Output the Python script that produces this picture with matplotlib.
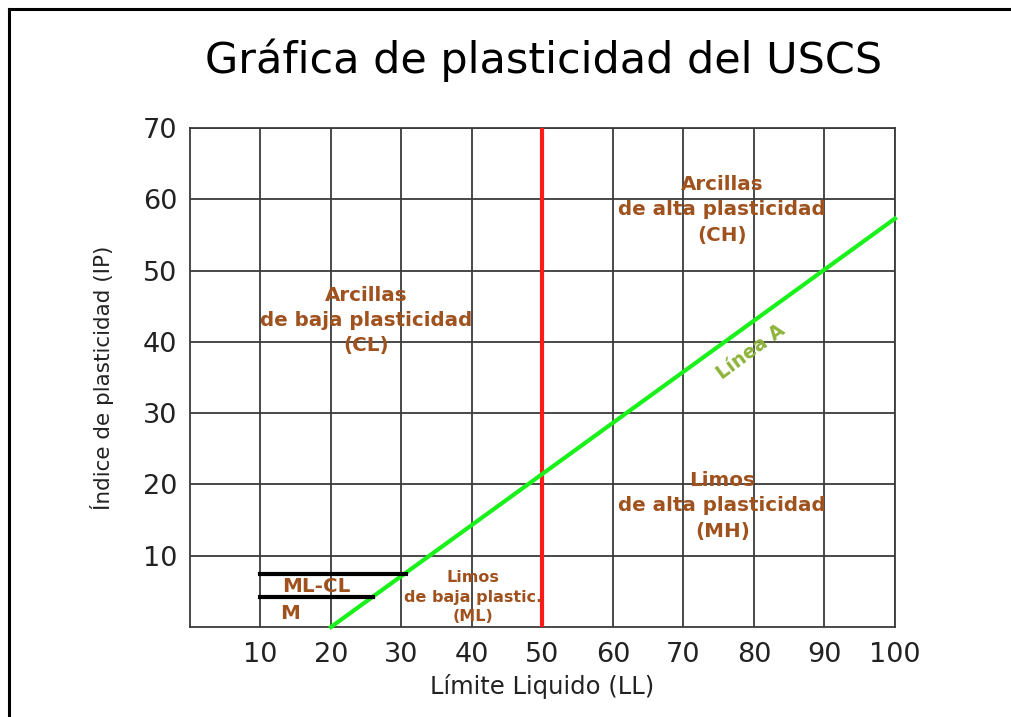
import matplotlib
matplotlib.use("Agg")
import matplotlib.pyplot as plt
from matplotlib.lines import Line2D

# data
x_ticks = [10, 20, 30, 40, 50, 60, 70, 80, 90, 100]
y_ticks = [10, 20, 30, 40, 50, 60, 70]
linea_a_ll = [20, 100]
linea_a_ip = [0, 57.3]
ll_limite = [50, 50]
ip_limite = [0, 70]
mlcl_top_ll = [10, 30.6]
mlcl_top_ip = [7.5, 7.5]
mlcl_bot_ll = [10, 25.9]
mlcl_bot_ip = [4.2, 4.2]

regions = [
    ("Arcillas\nde baja plasticidad\n(CL)", 25.0, 43.0, 14.3, 1.42),
    ("Arcillas\nde alta plasticidad\n(CH)", 75.5, 58.5, 14.3, 1.42),
    ("Limos\nde alta plasticidad\n(MH)", 75.5, 17.0, 14.3, 1.42),
    ("Limos\nde baja plastic.\n(ML)", 40.2, 4.2, 11.5, 1.4),
]

brown = "#A0521E"
grid_c = "#3a3a3a"

fig = plt.figure(figsize=(10.12, 7.17), dpi=100)
ax = fig.add_axes([190 / 1012, 90 / 717, 705 / 1012, 499 / 717])

ax.set_xlim(0, 100)
ax.set_ylim(0, 70)
ax.set_xticks(x_ticks)
ax.set_yticks(y_ticks)
ax.tick_params(length=0, labelsize=19.5, labelcolor="#222222")
ax.tick_params(axis="x", pad=11)
ax.tick_params(axis="y", pad=9)
ax.grid(True, color=grid_c, lw=1.3)
for s in ax.spines.values():
    s.set_color(grid_c)
    s.set_linewidth(1.3)

ax.plot(ll_limite, ip_limite, color="#FF1A1A", lw=3, zorder=3)
ax.plot(linea_a_ll, linea_a_ip, color="#1AF01A", lw=3, zorder=3, clip_on=False)
ax.plot(mlcl_top_ll, mlcl_top_ip, color="black", lw=3, zorder=3)
ax.plot(mlcl_bot_ll, mlcl_bot_ip, color="black", lw=3, zorder=3)

for txt, x, y, fs, ls in regions:
    ax.text(x, y, txt, ha="center", va="center", color=brown, fontsize=fs,
            fontweight="bold", linespacing=ls, zorder=4)

ax.text(17.9, 5.7, "ML-CL", ha="center", va="center", color=brown,
        fontsize=14.3, fontweight="bold", zorder=4)
ax.text(14.2, 1.9, "M", ha="center", va="center", color=brown,
        fontsize=14.3, fontweight="bold", zorder=4)
ax.text(79.6, 38.6, "Línea A", ha="center", va="center", color="#8DB33A",
        fontsize=13.8, fontweight="bold", rotation=36.4, rotation_mode="anchor")

ax.set_xlabel("Límite Liquido (LL)", fontsize=17.5, color="#222222", labelpad=4)
ax.set_ylabel("Índice de plasticidad (IP)", fontsize=15.5, color="#222222", labelpad=21)

fig.text(544 / 1012, 1 - 60 / 717, "Gráfica de plasticidad del USCS", ha="center",
         va="center", fontsize=31, color="black")

# outer frame (top and left edges)
fig.add_artist(Line2D([9 / 1012, 1], [1 - 9 / 717, 1 - 9 / 717],
                      transform=fig.transFigure, color="black", lw=2.2))
fig.add_artist(Line2D([9 / 1012, 9 / 1012], [0, 1 - 9 / 717],
                      transform=fig.transFigure, color="black", lw=2.2))

fig.savefig("out.png", dpi=100)
